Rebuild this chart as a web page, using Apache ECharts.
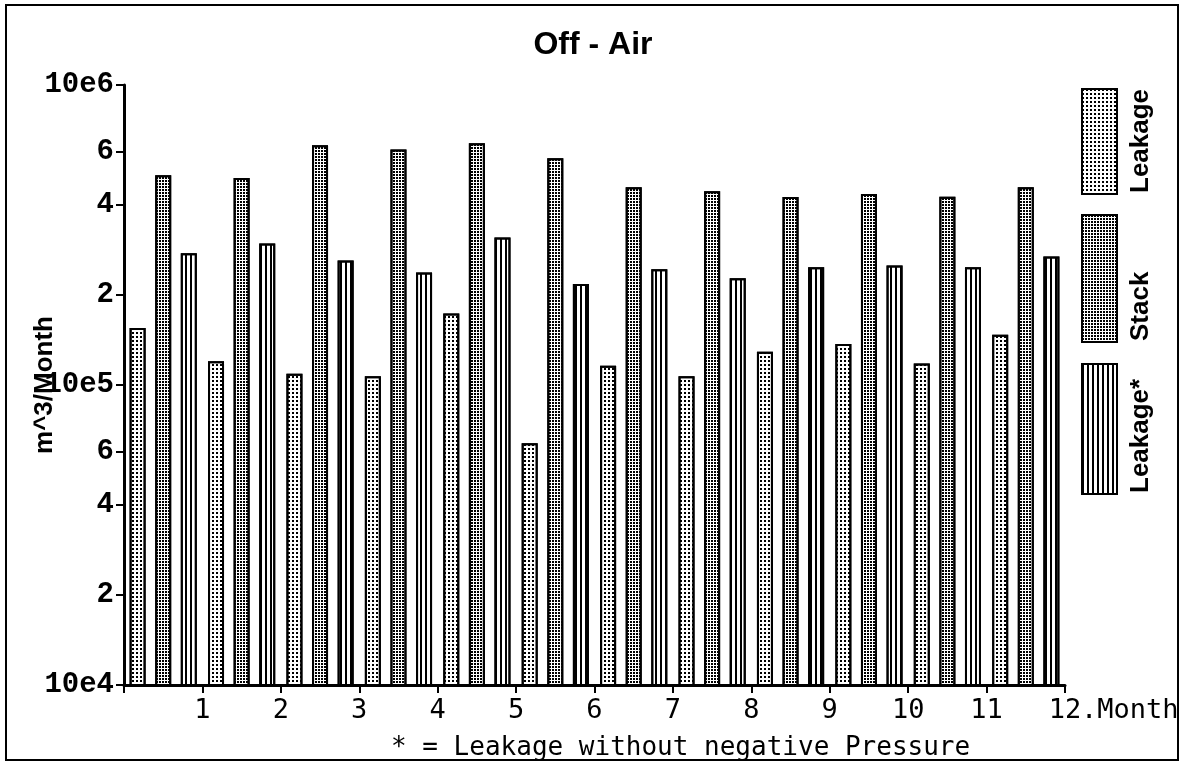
<!DOCTYPE html>
<html>
<head>
<meta charset="utf-8">
<title>Off - Air</title>
<script src="https://cdn.jsdelivr.net/npm/echarts@6/dist/echarts.min.js"></script>
<style>
  html, body { margin: 0; padding: 0; background: #fff; }
  #chart { width: 1186px; height: 763px; }
</style>
</head>
<body>
<div id="chart"></div>
<script>
// months on the x axis
const months = ['1', '2', '3', '4', '5', '6', '7', '8', '9', '10', '11', '12'];
// m^3/Month
const leakage = [1.55e5, 1.2e5, 1.09e5, 1.07e5, 1.73e5, 6.4e4, 1.16e5, 1.07e5, 1.29e5, 1.37e5, 1.18e5, 1.47e5];
const stack = [5.0e5, 4.9e5, 6.3e5, 6.1e5, 6.4e5, 5.7e5, 4.56e5, 4.42e5, 4.23e5, 4.33e5, 4.24e5, 4.56e5];
const leakageStar = [2.75e5, 2.96e5, 2.6e5, 2.37e5, 3.1e5, 2.17e5, 2.43e5, 2.27e5, 2.47e5, 2.5e5, 2.47e5, 2.68e5];
// y tick positions and their printed labels
const yTickValues = [1e4, 2e4, 4e4, 6e4, 1e5, 2e5, 4e5, 6e5, 1e6];
const yTickLabels = ['10e4', '2', '4', '6', '10e5', '2', '4', '6', '10e6'];
// unit printed right after the last month label ("12.Month")
const xUnit = '.Month';

const chart = echarts.init(document.getElementById('chart'));

// patterns used by the bars and the legend boxes
const decals = {
    leakage: { symbol: 'rect', symbolSize: 1, color: '#000', dashArrayX: [1.5, 1.5], dashArrayY: [1.5, 1.5] },
    stack: { symbol: 'rect', symbolSize: 1, color: '#000', dashArrayX: [2, 1], dashArrayY: [2, 1] },
    leakageStar: { symbol: 'rect', symbolSize: 1, color: '#000', dashArrayX: [2, 3], dashArrayY: [1, 0] }
};

function barSeries(name, data, decal) {
    return {
        name: name,
        type: 'bar',
        xAxisIndex: 0,
        yAxisIndex: 0,
        data: data,
        barWidth: 16,
        barGap: '60%',
        silent: true,
        itemStyle: { color: '#fff', borderColor: '#000', borderWidth: 2, decal: decal }
    };
}

function legendBox(name, top, height) {
    return {
        data: [name],
        left: 1081, top: top, padding: 0,
        orient: 'vertical',
        icon: 'rect',
        itemWidth: 35, itemHeight: height,
        selectedMode: false,
        formatter: function () { return ' '; },
        textStyle: { fontSize: 1 }
    };
}

function legendText(text, y) {
    return {
        type: 'text', x: 1141, y: y, rotation: Math.PI / 2,
        style: {
            text: text, font: 'bold 26px "Liberation Sans"', fill: '#000',
            align: 'left', verticalAlign: 'middle',
            textAlign: 'left', textVerticalAlign: 'middle'
        }
    };
}

const monoFont = '"DejaVu Sans Mono"';

let option = {
    backgroundColor: '#fff',
    animation: false,
    title: [
        {
            text: 'Off - Air', left: 'center', top: 24,
            textStyle: { fontFamily: '"Liberation Sans"', fontWeight: 'bold', fontSize: 32, color: '#000' }
        },
        {
            text: '* = Leakage without negative Pressure', left: 386, top: 730,
            textStyle: { fontFamily: monoFont, fontWeight: 'normal', fontSize: 26, color: '#000' }
        }
    ],
    grid: { left: 124, right: 121, top: 85, bottom: 78, containLabel: false, outerBoundsMode: 'none' },
    legend: [
        legendBox('Leakage', 88, 105),
        legendBox('Stack', 214, 127),
        legendBox('Leakage*', 363, 130)
    ],
    xAxis: [
        {
            type: 'category', data: months, boundaryGap: true,
            axisLine: { show: true, lineStyle: { color: '#000', width: 3 } },
            axisTick: { show: false }, axisLabel: { show: false },
            splitLine: { show: false }
        },
        {
            type: 'value', min: 0, max: 12, interval: 1, position: 'bottom',
            name: xUnit, nameLocation: 'end', nameGap: 16, nameMoveOverlap: false,
            nameTextStyle: {
                fontFamily: monoFont, fontSize: 27, color: '#000',
                align: 'left', verticalAlign: 'top', padding: [12, 0, 0, 0]
            },
            axisLine: { show: false },
            axisTick: { show: true, inside: false, length: 8, lineStyle: { color: '#000', width: 2 } },
            axisLabel: {
                margin: 12, color: '#000', fontFamily: monoFont, fontSize: 27,
                showMinLabel: true, showMaxLabel: true, hideOverlap: false,
                formatter: function (v) { return v === 0 ? '' : String(v); }
            },
            splitLine: { show: false }
        }
    ],
    yAxis: {
        type: 'log', logBase: 10, min: 1e4, max: 1e6,
        name: 'm^3/Month', nameLocation: 'middle', nameRotate: 90, nameGap: 66,
        nameMoveOverlap: false,
        nameTextStyle: { fontFamily: '"Liberation Sans"', fontWeight: 'bold', fontSize: 26, color: '#000' },
        axisLine: { show: true, lineStyle: { color: '#000', width: 3 } },
        axisTick: { show: true, inside: false, length: 8, lineStyle: { color: '#000', width: 2 }, customValues: yTickValues },
        axisLabel: {
            margin: 10, color: '#000', fontFamily: '"Liberation Mono"', fontWeight: 'bold', fontSize: 29,
            customValues: yTickValues,
            formatter: function (v) {
                const i = yTickValues.findIndex(t => Math.abs(t - v) / t < 1e-6);
                return i >= 0 ? yTickLabels[i] : '';
            }
        },
        splitLine: { show: false },
        minorTick: { show: false }
    },
    graphic: [
        { type: 'rect', shape: { x: 6, y: 5, width: 1172, height: 755 }, style: { fill: 'none', stroke: '#000', lineWidth: 2 }, silent: true },
        legendText('Leakage', 193),
        legendText('Stack', 341),
        legendText('Leakage*', 493)
    ],
    series: [
        barSeries('Leakage', leakage, decals.leakage),
        barSeries('Stack', stack, decals.stack),
        barSeries('Leakage*', leakageStar, decals.leakageStar)
    ]
};

option && chart.setOption(option);
</script>
</body>
</html>
